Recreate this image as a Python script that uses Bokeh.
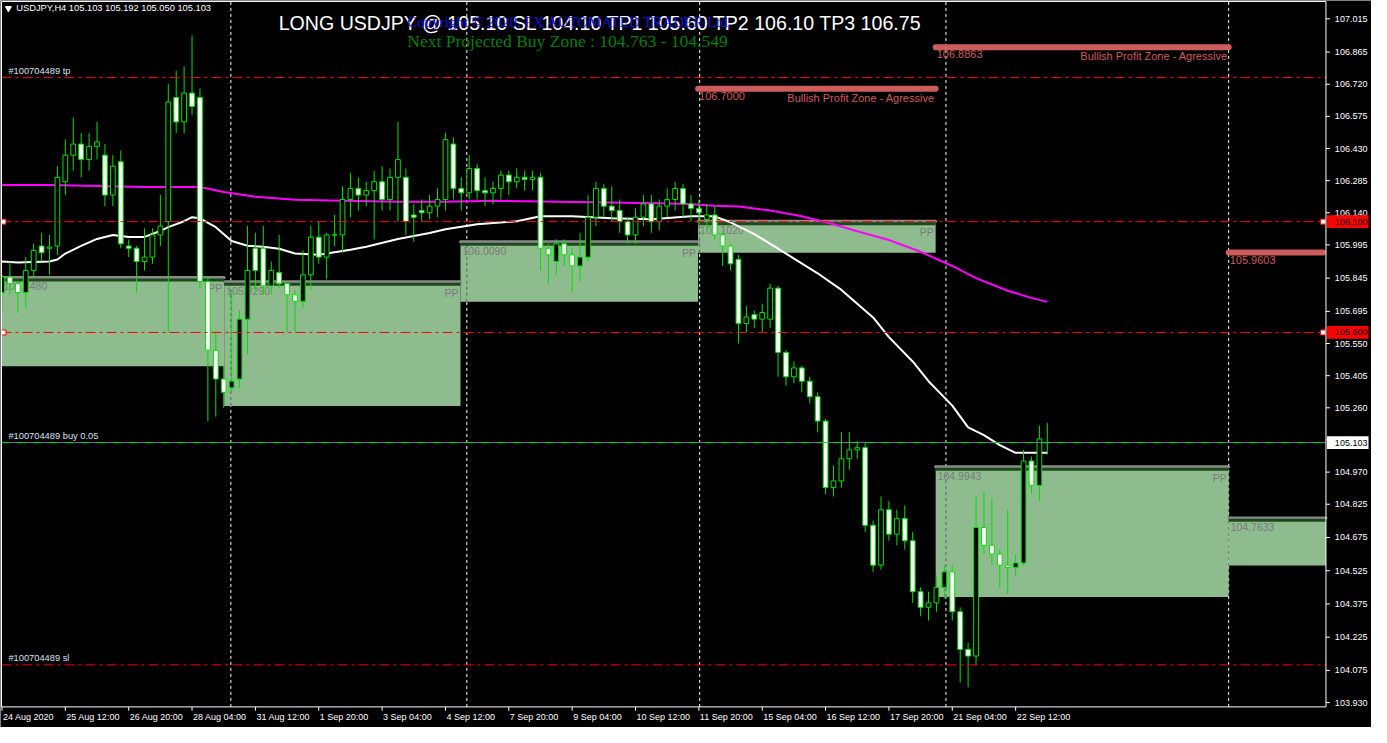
import numpy as np
from bokeh.plotting import figure
from bokeh.models import ColumnDataSource, Range1d
from bokeh.core.properties import value
from bokeh.embed import file_html
from bokeh.resources import INLINE

# ---------------- data ----------------
header_text = "USDJPY,H4  105.103 105.192 105.050 105.103"
title_text = "LONG USDJPY @ 105.10 SL 104.10 TP1 105.60 TP2 106.10 TP3 106.75"
copyright_text = "Copyright © 2020, FX AUTOMATED TRADER Ltd."
buy_zone_text = "Next Projected Buy Zone : 104.763 - 104.549"

opens = [105.78, 105.85, 105.82, 105.78, 105.88, 105.99, 105.98, 105.99, 106.28, 106.40,
         106.45, 106.38, 106.44, 106.40, 106.22, 106.37, 105.99, 105.98, 105.92, 105.94,
         106.04, 106.10, 106.66, 106.55, 106.68, 106.66, 105.83, 105.52, 105.39, 105.35,
         105.39, 105.66, 105.98, 105.98, 105.81, 105.87, 105.82, 105.77, 105.74, 105.86,
         106.03, 105.94, 106.04, 106.04, 106.20, 106.25, 106.22, 106.24, 106.28, 106.20,
         106.30, 106.30, 106.13, 106.15, 106.14, 106.17, 106.20, 106.45, 106.25, 106.23,
         106.34, 106.24, 106.23, 106.25, 106.31, 106.28, 106.30, 106.29, 106.30, 105.98,
         105.92, 106.00, 105.95, 105.90, 105.94, 106.12, 106.25, 106.17, 106.15, 106.10,
         106.04, 106.12, 106.18, 106.10, 106.17, 106.20, 106.25, 106.18, 106.16, 106.11,
         106.13, 106.04, 105.99, 105.93, 105.64, 105.68, 105.66, 105.66, 105.80, 105.51,
         105.40, 105.44, 105.38, 105.31, 105.20, 104.90, 104.93, 105.03, 105.07, 105.08,
         104.73, 104.55, 104.80, 104.69, 104.76, 104.66, 104.43, 104.36, 104.38, 104.45,
         104.52, 104.34, 104.17, 104.14, 104.72, 104.64, 104.60, 104.55, 104.54, 104.56,
         105.02, 104.91, 105.103]
highs = [105.86, 105.92, 105.83, 105.94, 106.00, 106.05, 106.04, 106.35, 106.47, 106.57,
         106.50, 106.50, 106.55, 106.45, 106.40, 106.42, 106.02, 105.99, 106.07, 106.07,
         106.22, 106.72, 106.78, 106.80, 106.94, 106.70, 105.85, 105.60, 105.45, 105.79,
         105.70, 106.08, 106.05, 106.08, 105.92, 106.04, 105.83, 105.79, 105.97, 106.08,
         106.10, 106.05, 106.13, 106.26, 106.32, 106.30, 106.28, 106.33, 106.35, 106.34,
         106.55, 106.34, 106.18, 106.20, 106.22, 106.25, 106.50, 106.48, 106.30, 106.40,
         106.36, 106.30, 106.28, 106.33, 106.33, 106.34, 106.33, 106.33, 106.32, 106.00,
         106.02, 106.02, 105.98, 106.05, 106.22, 106.28, 106.27, 106.26, 106.20, 106.12,
         106.16, 106.22, 106.22, 106.20, 106.25, 106.28, 106.27, 106.22, 106.20, 106.18,
         106.17, 106.05, 106.00, 105.95, 105.72, 105.70, 105.73, 105.82, 105.81, 105.52,
         105.47, 105.45, 105.40, 105.33, 105.21, 105.00, 105.15, 105.15, 105.11, 105.10,
         104.75, 104.86, 104.84, 104.80, 104.82, 104.70, 104.45, 104.43, 104.50, 104.55,
         104.55, 104.36, 104.20, 104.86, 104.88, 104.85, 104.62, 104.80, 104.60, 105.07,
         105.04, 105.18, 105.192]
lows = [105.70, 105.77, 105.69, 105.71, 105.85, 105.92, 105.86, 105.95, 106.22, 106.33,
        106.30, 106.33, 106.38, 106.17, 106.17, 105.98, 105.94, 105.78, 105.88, 105.91,
        105.99, 105.60, 106.50, 106.50, 106.58, 105.80, 105.20, 105.22, 105.26, 105.33,
        105.35, 105.50, 105.79, 105.77, 105.77, 105.80, 105.60, 105.60, 105.71, 105.79,
        105.91, 105.84, 105.99, 105.96, 106.12, 106.15, 106.17, 106.02, 106.15, 106.15,
        106.10, 106.04, 106.01, 106.10, 106.11, 106.12, 106.15, 106.20, 106.15, 106.20,
        106.20, 106.17, 106.18, 106.20, 106.22, 106.25, 106.24, 106.24, 105.88, 105.82,
        105.86, 105.90, 105.78, 105.83, 105.92, 106.08, 106.12, 106.10, 106.05, 106.00,
        106.00, 106.08, 106.05, 106.06, 106.12, 106.15, 106.12, 106.10, 106.08, 106.06,
        106.02, 105.90, 105.88, 105.55, 105.60, 105.62, 105.60, 105.62, 105.40, 105.36,
        105.37, 105.33, 105.28, 105.15, 104.87, 104.86, 104.90, 104.98, 105.03, 104.70,
        104.52, 104.53, 104.66, 104.64, 104.62, 104.38, 104.32, 104.30, 104.34, 104.40,
        104.30, 104.02, 104.00, 104.10, 104.60, 104.55, 104.45, 104.42, 104.50, 104.55,
        104.87, 104.84, 105.050]
closes = [105.85, 105.82, 105.78, 105.88, 105.97, 105.96, 105.985, 106.30, 106.40, 106.45,
          106.38, 106.44, 106.46, 106.22, 106.35, 106.00, 105.98, 105.92, 105.94, 106.04,
          106.08, 106.64, 106.55, 106.68, 106.62, 105.83, 105.52, 105.39, 105.33, 105.38,
          105.66, 105.88, 105.88, 105.81, 105.88, 105.82, 105.77, 105.74, 105.86, 106.03,
          105.94, 106.04, 106.04, 106.20, 106.25, 106.22, 106.24, 106.28, 106.20, 106.30,
          106.38, 106.10, 106.12, 106.14, 106.17, 106.20, 106.47, 106.25, 106.23, 106.34,
          106.24, 106.23, 106.25, 106.31, 106.28, 106.30, 106.29, 106.30, 105.98, 105.95,
          106.00, 105.95, 105.90, 105.94, 106.12, 106.25, 106.17, 106.15, 106.10, 106.04,
          106.12, 106.18, 106.10, 106.17, 106.20, 106.25, 106.18, 106.16, 106.14, 106.13,
          106.04, 105.99, 105.91, 105.64, 105.67, 105.66, 105.69, 105.80, 105.51, 105.40,
          105.44, 105.38, 105.31, 105.20, 104.90, 104.93, 105.03, 105.07, 105.08, 104.73,
          104.55, 104.80, 104.69, 104.76, 104.66, 104.43, 104.36, 104.38, 104.45, 104.52,
          104.34, 104.17, 104.14, 104.72, 104.64, 104.60, 104.55, 104.54, 104.56, 105.02,
          104.91, 105.12, 105.103]

x_tick_bars = [0, 8, 16, 24, 32, 40, 48, 56, 64, 72, 80, 88, 96, 104, 112, 120, 128]
x_tick_labels = ["24 Aug 2020", "25 Aug 12:00", "26 Aug 20:00", "28 Aug 04:00", "31 Aug 12:00",
                 "1 Sep 20:00", "3 Sep 04:00", "4 Sep 12:00", "7 Sep 20:00", "9 Sep 04:00",
                 "10 Sep 12:00", "11 Sep 20:00", "15 Sep 04:00", "16 Sep 12:00", "17 Sep 20:00",
                 "21 Sep 04:00", "22 Sep 12:00"]
y_ticks = [107.015, 106.865, 106.720, 106.575, 106.430, 106.285, 106.140, 105.995, 105.845,
           105.695, 105.550, 105.405, 105.260, 105.115, 104.970, 104.825, 104.675, 104.525,
           104.375, 104.225, 104.075, 103.930]

ma_fast_bars = [0, 2, 6, 7, 8, 10, 12, 14, 16, 18, 20, 21, 23, 24, 25, 27, 29, 31, 33, 35,
                37, 40, 41, 44, 46, 50, 54, 56, 60, 65, 68, 72, 77, 82, 87, 90, 92, 95, 98, 103,
                106, 110, 112, 115, 117, 120, 122, 124, 126, 128, 132]
ma_fast_vals = [105.920, 105.916, 105.920, 105.929, 105.956, 105.991, 106.022, 106.040, 106.031, 106.031,
                106.058, 106.075, 106.102, 106.120, 106.115, 106.075, 106.013, 105.991, 105.987, 105.978,
                105.956, 105.951, 105.956, 105.973, 105.987, 106.022, 106.049, 106.066, 106.088, 106.102,
                106.124, 106.124, 106.115, 106.111, 106.124, 106.124, 106.097, 106.044, 105.978, 105.867,
                105.792, 105.668, 105.579, 105.469, 105.380, 105.270, 105.172, 105.137, 105.092, 105.057,
                105.057]
ma_slow_bars = [0, 6, 12, 18, 25, 28, 32, 37, 43, 50, 56, 62, 70, 77, 86, 90, 93, 97, 101, 105,
                108, 112, 116, 120, 123, 127, 130, 132]
ma_slow_vals = [106.265, 106.265, 106.261, 106.256, 106.256, 106.234, 106.212, 106.199, 106.194, 106.190,
                106.190, 106.194, 106.190, 106.186, 106.181, 106.172, 106.168, 106.150, 106.124, 106.088,
                106.057, 106.017, 105.964, 105.900, 105.845, 105.788, 105.756, 105.738]

zone_left = [-3.0, 28.06, 57.9, 87.9, 117.9, 154.9]
zone_right = [28.06, 57.9, 87.9, 117.9, 154.9, 170.0]
zone_top = [105.8480, 105.8290, 106.0090, 106.1020, 104.9943, 104.7633]
zone_bottom = [105.447, 105.268, 105.739, 105.960, 104.406, 104.549]

profit_left = [87.9, 117.9, 154.9]
profit_right = [117.9, 154.9, 172.0]
profit_level = [106.7000, 106.8863, 105.9603]
profit_name = "Bullish Profit Zone - Agressive"

separator_bars = [28.9, 58.7, 88.1, 119.2, 154.9]

order_id = "#100704489"
tp_level, buy_level, sl_level = 106.75, 105.103, 104.10
buy_lot = "buy 0.05"
alert_levels = [106.100, 105.600]


# ---------------- layout helpers (reference-pixel -> data) ----------------
def rx(px):
    return (px - 3.5) / 8.0


def ry(py):
    return 107.015 - (py - 20.7) / 225.9


PX = 1.0 / 225.9
BX = 1.0 / 8.0
LEFT_X, AXIS_X = rx(3), rx(1341)
TOP_Y, BOTTOM_Y = ry(3), ry(722)

FONT = "Liberation Sans"
GREEN = "#00e000"
ZONE_FILL = "#8fbc8f"
ZONE_DARK = "#1c4a1c"
ZONE_GREY = "#8a8a8a"
PROFIT = "#cd5c5c"
RED = "#ff0000"

p = figure(width=1371, height=727, x_range=Range1d(rx(2), rx(1387)), y_range=Range1d(ry(743), ry(2)),
           output_backend="svg", toolbar_location=None, x_axis_location=None, y_axis_location=None,
           background_fill_color="black", border_fill_color="black", outline_line_color=None,
           min_border=0)
p.grid.visible = False

# separators (white dotted)
p.segment(x0=separator_bars, y0=[BOTTOM_Y] * len(separator_bars), x1=separator_bars,
          y1=[TOP_Y] * len(separator_bars), line_color="white", line_dash="3 3", line_width=1)

# pivot zones
zl_c = [max(v, LEFT_X) for v in zone_left]
zr_c = [min(v, AXIS_X) for v in zone_right]
p.quad(left=zl_c, right=zr_c, top=[t - 2 * PX for t in zone_top], bottom=zone_bottom,
       fill_color=ZONE_FILL, line_color=None)
for sb in separator_bars:
    for zl, zr, zt, zb in zip(zl_c, zr_c, zone_top, zone_bottom):
        if zl < sb < zr:
            p.segment(x0=[sb], y0=[zb], x1=[sb], y1=[zt], line_color="#5c5c78", line_dash="3 3", line_width=1)
p.segment(x0=zl_c, y0=zone_top, x1=zr_c, y1=zone_top, line_color=ZONE_GREY,
          line_width=3, line_cap="round")
p.segment(x0=zl_c, y0=[t - 2.5 * PX for t in zone_top], x1=zr_c,
          y1=[t - 2.5 * PX for t in zone_top], line_color=ZONE_DARK, line_width=3)
p.text(x=zl_c, y=zone_top, text=["%.4f" % t for t in zone_top], x_offset=2, y_offset=5,
       text_font=value(FONT), text_font_size="10.5px", text_color="#7a7a7a",
       text_align="left", text_baseline="top")
pp_x = [zr for zr, raw in zip(zr_c, zone_right) if raw <= AXIS_X]
pp_y = [zt for zt, raw in zip(zone_top, zone_right) if raw <= AXIS_X]
p.text(x=pp_x, y=pp_y, text=["PP"] * len(pp_x), x_offset=-2, y_offset=5,
       text_font=value(FONT), text_font_size="10.5px", text_color="#7a7a7a",
       text_align="right", text_baseline="top")

# moving averages
p.line(ma_slow_bars, ma_slow_vals, line_color="#ff00ff", line_width=2)
p.line(ma_fast_bars, ma_fast_vals, line_color="white", line_width=2)

# candles
o = np.array(opens); h = np.array(highs); l = np.array(lows); c = np.array(closes)
xs = np.arange(len(o))
bull = c >= o
p.segment(x0="x", y0="l", x1="x", y1="h", source=ColumnDataSource(dict(x=xs, h=h, l=l)),
          line_color=GREEN, line_width=1)
p.vbar(x=xs[bull], top=np.maximum(o, c)[bull], bottom=np.minimum(o, c)[bull], width=0.6,
       fill_color="black", line_color=GREEN, line_width=1)
p.vbar(x=xs[~bull], top=np.maximum(o, c)[~bull], bottom=np.minimum(o, c)[~bull], width=0.6,
       fill_color="white", line_color=GREEN, line_width=1)

# profit zones
pr_c = [min(v, AXIS_X - 3 * BX) for v in profit_right]
p.segment(x0=profit_left, y0=profit_level, x1=pr_c, y1=profit_level,
          line_color=PROFIT, line_width=6, line_cap="round")
p.text(x=profit_left, y=profit_level, text=["%.4f" % v for v in profit_level], x_offset=1, y_offset=3,
       text_font=value(FONT), text_font_size="11px", text_color=PROFIT, text_align="left", text_baseline="top")
named = [i for i, v in enumerate(profit_right) if v <= AXIS_X]
p.text(x=[profit_right[i] for i in named], y=[profit_level[i] for i in named], text=[profit_name] * len(named),
       x_offset=-1, y_offset=3, text_font=value(FONT), text_font_size="11px", text_color=PROFIT,
       text_align="right", text_baseline="top")

# trade lines
for lvl in [tp_level, sl_level] + alert_levels:
    p.segment(x0=[LEFT_X], y0=[lvl], x1=[AXIS_X], y1=[lvl], line_color=RED, line_width=1, line_dash="10 4 3 4")
p.segment(x0=[LEFT_X], y0=[buy_level], x1=[AXIS_X], y1=[buy_level], line_color="#7080a0", line_width=1)
p.segment(x0=[LEFT_X], y0=[buy_level], x1=[AXIS_X], y1=[buy_level], line_color=GREEN, line_width=1,
          line_dash="8 8")
p.scatter(x=[rx(5)] * 2 + [rx(1338)] * 2, y=alert_levels + alert_levels, marker="square", size=5,
          fill_color="white", line_color=RED)
p.text(x=[rx(10)] * 3, y=[tp_level, buy_level, sl_level],
       text=[order_id + " tp", order_id + " " + buy_lot, order_id + " sl"], y_offset=-2,
       text_font=value(FONT), text_font_size="9.3px", text_color="#d8e0f0",
       text_align="left", text_baseline="bottom")

# header and titles
p.scatter(x=[rx(10)], y=[ry(10)], marker="inverted_triangle", size=6, fill_color="white", line_color="white")
p.text(x=[rx(18)], y=[ry(10)], text=[header_text], text_font=value(FONT),
       text_font_size="9.3px", text_color="white", text_align="left", text_baseline="middle")
p.text(x=[rx(283)], y=[ry(25)], text=[title_text], text_font=value(FONT),
       text_font_size="19.6px", text_color="white", text_align="left", text_baseline="middle")
p.text(x=[rx(413)], y=[ry(24)], text=[copyright_text], text_font=value("Liberation Serif"),
       text_font_size="15px", text_color="#1010e0", text_align="left", text_baseline="middle")
p.text(x=[rx(413)], y=[ry(43)], text=[buy_zone_text], text_font=value("Liberation Serif"),
       text_font_size="17.5px", text_color="#008000", text_align="left", text_baseline="middle")

# frame and axes (drawn on the data scales)
p.segment(x0=[LEFT_X, LEFT_X, LEFT_X, AXIS_X], y0=[BOTTOM_Y, TOP_Y, BOTTOM_Y, BOTTOM_Y],
          x1=[LEFT_X, AXIS_X, AXIS_X, AXIS_X], y1=[TOP_Y, TOP_Y, BOTTOM_Y, TOP_Y],
          line_color="white", line_width=1)
p.segment(x0=[AXIS_X] * len(y_ticks), y0=y_ticks, x1=[AXIS_X + 4 * BX] * len(y_ticks), y1=y_ticks,
          line_color="white", line_width=1)
p.text(x=[AXIS_X + 9 * BX] * len(y_ticks), y=y_ticks, text=["%.3f" % t for t in y_ticks],
       text_font=value(FONT), text_font_size="9px", text_color="white",
       text_align="left", text_baseline="middle")
p.segment(x0=x_tick_bars, y0=[BOTTOM_Y] * len(x_tick_bars), x1=x_tick_bars,
          y1=[BOTTOM_Y - 4 * PX] * len(x_tick_bars), line_color="white", line_width=1)
p.text(x=x_tick_bars, y=[ry(732)] * len(x_tick_bars), text=x_tick_labels, x_offset=1,
       text_font=value(FONT), text_font_size="9px", text_color="white",
       text_align="left", text_baseline="middle")

# price boxes on the axis
box_levels = alert_levels + [buy_level]
box_colors = [RED, RED, "white"]
p.quad(left=[AXIS_X + 1 * BX] * 3, right=[AXIS_X + 43 * BX] * 3,
       top=[v + 6.5 * PX for v in box_levels], bottom=[v - 6.5 * PX for v in box_levels],
       fill_color=box_colors, line_color=None)
p.text(x=[AXIS_X + 9 * BX] * 3, y=box_levels, text=["%.3f" % v for v in box_levels],
       text_font=value(FONT), text_font_size="9px", text_color="black",
       text_align="left", text_baseline="middle")

open("out.html", "w").write(file_html(p, INLINE))
